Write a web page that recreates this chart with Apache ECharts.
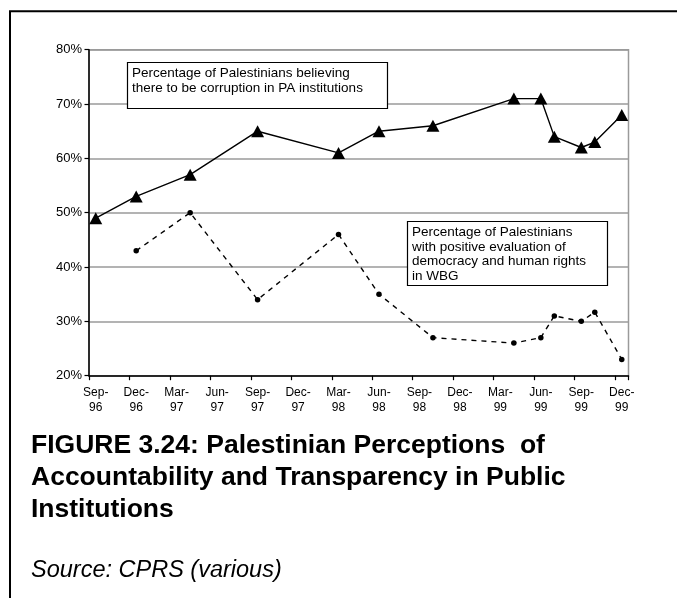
<!DOCTYPE html>
<html>
<head>
<meta charset="utf-8">
<script src="https://cdn.jsdelivr.net/npm/echarts@6/dist/echarts.min.js"></script>
<style>
  html, body { margin: 0; padding: 0; background: #fff; }
  #chart { width: 677px; height: 598px; }
</style>
</head>
<body>
<div id="chart"></div>
<script>
// Monthly slots on the horizontal axis, Sep 1996 to Dec 1999
const months = [
  'Sep-96','Oct-96','Nov-96','Dec-96','Jan-97','Feb-97','Mar-97','Apr-97','May-97','Jun-97',
  'Jul-97','Aug-97','Sep-97','Oct-97','Nov-97','Dec-97','Jan-98','Feb-98','Mar-98','Apr-98',
  'May-98','Jun-98','Jul-98','Aug-98','Sep-98','Oct-98','Nov-98','Dec-98','Jan-99','Feb-99',
  'Mar-99','Apr-99','May-99','Jun-99','Jul-99','Aug-99','Sep-99','Oct-99','Nov-99','Dec-99'
];

// Poll dates and results: corruption in PA institutions (%)
const corruptionMonths = ['Sep-96','Dec-96','Apr-97','Sep-97','Mar-98','Jun-98','Oct-98','Apr-99','Jun-99','Jul-99','Sep-99','Oct-99','Dec-99'];
const corruptionValues = [49, 53, 57, 65, 61, 65, 66, 71, 71, 64, 62, 63, 68];

// Poll dates and results: positive evaluation of democracy and human rights (%)
const democracyMonths = ['Dec-96','Apr-97','Sep-97','Mar-98','Jun-98','Oct-98','Apr-99','Jun-99','Jul-99','Sep-99','Oct-99','Dec-99'];
const democracyValues = [43, 50, 34, 46, 35, 27, 26, 27, 31, 30, 31.7, 23];

// Vertical axis
const yMin = 20, yMax = 80, yStep = 10;

const corruptionNote = ['Percentage of Palestinians believing', 'there to be corruption in PA institutions'];
const democracyNote = ['Percentage of Palestinians', 'with positive evaluation of', 'democracy and human rights', 'in WBG'];
const titleLines = ['FIGURE 3.24: Palestinian Perceptions  of', 'Accountability and Transparency in Public', 'Institutions'];
const sourceText = 'Source: CPRS (various)';

const FONT = '"Liberation Sans", Arial, sans-serif';

const chart = echarts.init(document.getElementById('chart'), null, { renderer: 'canvas' });

function pairs(ms, vs) { return ms.map((m, i) => [m, vs[i]]); }

function noteBox(x, y, w, h, lines, lineH) {
  const els = [{
    type: 'rect',
    shape: { x: x, y: y, width: w, height: h },
    style: { fill: '#fff', stroke: '#000', lineWidth: 1.2 },
    z: 100
  }];
  lines.forEach((t, i) => {
    els.push({
      type: 'text',
      x: x + 4.5, y: y + 10.5 + i * lineH,
      style: { text: t, font: '13.5px ' + FONT, fill: '#000', textVerticalAlign: 'middle' },
      z: 101
    });
  });
  return els;
}

const graphics = [
  // page frame
  { type: 'polyline', shape: { points: [[10, 600], [10, 11.3], [680, 11.3]] }, style: { stroke: '#000', lineWidth: 2, fill: null }, z: 50 }
]
  .concat(noteBox(127.5, 62.5, 260, 46, corruptionNote, 15))
  .concat(noteBox(407.5, 221.5, 200, 64, democracyNote, 14.8))
  .concat(titleLines.map((t, i) => ({
    type: 'text', x: 31, y: 446 + i * 32,
    style: { text: t, font: 'bold 26.5px ' + FONT, fill: '#000', textVerticalAlign: 'middle' }
  })))
  .concat([{
    type: 'text', x: 31, y: 570.5,
    style: { text: sourceText, font: 'italic 23.5px ' + FONT, fill: '#000', textVerticalAlign: 'middle' }
  }]);

chart.setOption({
  backgroundColor: '#fff',
  animation: false,
  grid: {
    left: 89, right: 48.5, top: 49.7, bottom: 222.3,
    show: true, borderColor: '#9a9a9a', borderWidth: 1.5, backgroundColor: 'transparent'
  },
  xAxis: {
    type: 'category',
    data: months,
    boundaryGap: true,
    axisLine: { lineStyle: { color: '#000', width: 1.5 } },
    axisTick: { show: true, interval: 2, length: 4.5, inside: false, lineStyle: { color: '#000', width: 1.2 } },
    axisLabel: {
      interval: 2,
      margin: 10,
      fontFamily: FONT,
      fontSize: 12,
      color: '#000',
      lineHeight: 14.5,
      formatter: v => v.replace('-', '-\n')
    },
    splitLine: { show: false }
  },
  yAxis: {
    type: 'value',
    min: yMin, max: yMax, interval: yStep,
    axisLine: { show: true, lineStyle: { color: '#000', width: 1.5 } },
    axisTick: { show: true, length: 4.5, lineStyle: { color: '#000', width: 1.2 } },
    axisLabel: { fontFamily: FONT, fontSize: 13, color: '#000', margin: 7, formatter: '{value}%' },
    splitLine: { show: true, lineStyle: { color: '#9a9a9a', width: 1.5 } }
  },
  series: [
    {
      name: 'Corruption in PA institutions',
      type: 'line',
      data: pairs(corruptionMonths, corruptionValues),
      connectNulls: true,
      symbol: 'triangle',
      symbolSize: [13, 12],
      showAllSymbol: true,
      itemStyle: { color: '#000' },
      lineStyle: { color: '#000', width: 1.4 },
      z: 5
    },
    {
      name: 'Democracy and human rights',
      type: 'line',
      data: pairs(democracyMonths, democracyValues),
      connectNulls: true,
      symbol: 'circle',
      symbolSize: 5.5,
      showAllSymbol: true,
      itemStyle: { color: '#000' },
      lineStyle: { color: '#000', width: 1.4, type: [5, 5] },
      z: 4
    }
  ],
  graphic: graphics
});
</script>
</body>
</html>
